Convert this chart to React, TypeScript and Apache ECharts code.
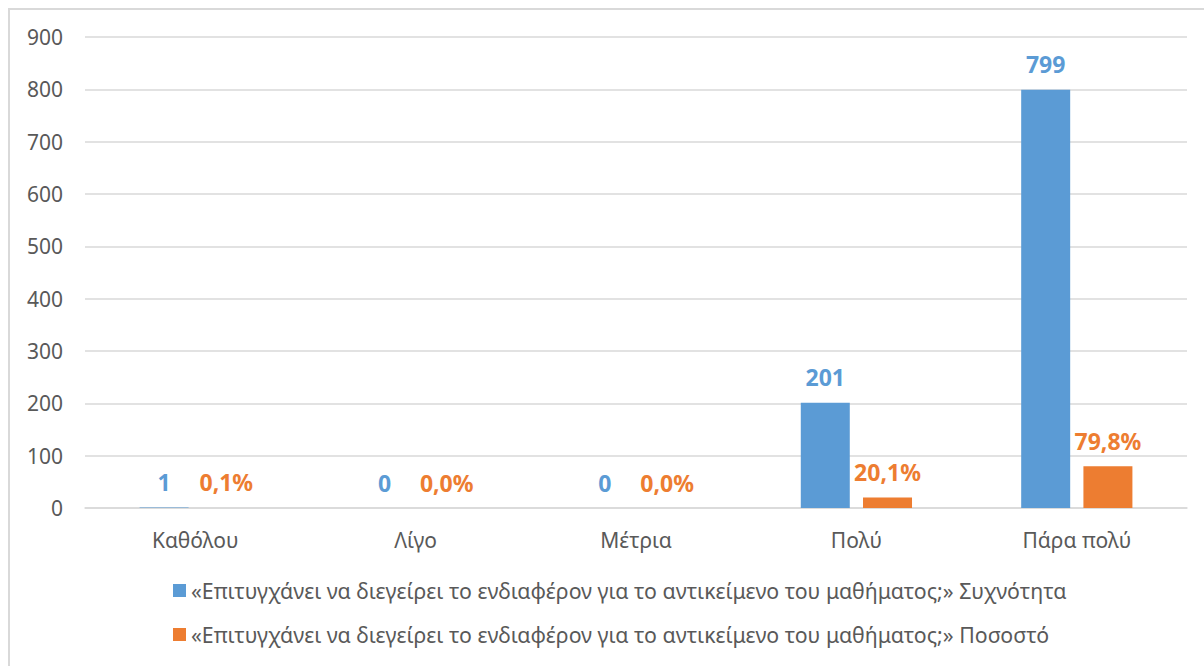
import React, { useEffect, useRef } from "react";
import * as echarts from "echarts";

const categories = ["Καθόλου", "Λίγο", "Μέτρια", "Πολύ", "Πάρα πολύ"];
const freqValues = [1, 0, 0, 201, 799];
const pctValues = [0.1, 0.0, 0.0, 20.1, 79.8];
const seriesNames = [
  "«Επιτυγχάνει να διεγείρει το ενδιαφέρον για το αντικείμενο του μαθήματος;» Συχνότητα",
  "«Επιτυγχάνει να διεγείρει το ενδιαφέρον για το αντικείμενο του μαθήματος;» Ποσοστό",
];
const yMin = 0;
const yMax = 900;
const yInterval = 100;

const BLUE = "#5B9BD5";
const ORANGE = "#ED7D31";
const TEXT = "#595959";
const FONT = "'Noto Sans', 'Open Sans', sans-serif";

export default function App() {
  const ref = useRef<HTMLDivElement>(null);
  useEffect(() => {
    if (!ref.current) return;
    const chart = echarts.init(ref.current, undefined, { renderer: "svg" });
    chart.setOption({
      animation: false,
      textStyle: { fontFamily: FONT },
      grid: { left: 85, right: 17, top: 37, bottom: 158, containLabel: false },
      legend: {
        orient: "vertical",
        left: 168,
        top: 575,
        itemGap: 23,
        itemWidth: 13,
        itemHeight: 13,
        icon: "rect",
        textStyle: { color: TEXT, fontSize: 21.3, fontFamily: FONT },
        data: seriesNames,
      },
      xAxis: {
        type: "category",
        data: categories,
        axisLine: { lineStyle: { color: "#d9d9d9", width: 1.5 } },
        axisTick: { show: false },
        axisLabel: { color: TEXT, fontSize: 21, margin: 21, fontFamily: FONT },
      },
      yAxis: {
        type: "value",
        min: yMin,
        max: yMax,
        interval: yInterval,
        axisLine: { show: false },
        axisTick: { show: false },
        splitLine: { lineStyle: { color: "#d9d9d9", width: 1.5 } },
        axisLabel: { color: TEXT, fontSize: 21, margin: 22, fontFamily: FONT },
      },
      series: [
        {
          name: seriesNames[0],
          type: "bar",
          data: freqValues,
          barWidth: 49,
          barGap: "27%",
          itemStyle: { color: BLUE },
          label: {
            show: true,
            position: "top",
            distance: 14,
            color: BLUE,
            fontSize: 23,
            fontWeight: "bold",
            fontFamily: FONT,
            formatter: (p: any) => String(p.value),
          },
        },
        {
          name: seriesNames[1],
          type: "bar",
          data: pctValues,
          barWidth: 49,
          barGap: "27%",
          itemStyle: { color: ORANGE },
          label: {
            show: true,
            position: "top",
            distance: 14,
            color: ORANGE,
            fontSize: 23,
            fontWeight: "bold",
            fontFamily: FONT,
            formatter: (p: any) => Number(p.value).toFixed(1).replace(".", ",") + "%",
          },
        },
      ],
    });
    return () => chart.dispose();
  }, []);
  return (
    <div style={{ position: "fixed", left: 0, top: 0, width: 1204, height: 666, background: "#fff", overflow: "hidden" }}>
      <div
        style={{
          position: "absolute",
          left: 8,
          top: 8,
          width: 1300,
          height: 800,
          border: "2px solid #d9d9d9",
          boxSizing: "border-box",
        }}
      />
      <div ref={ref} style={{ position: "absolute", left: 0, top: 0, width: 1204, height: 666 }} />
    </div>
  );
}
